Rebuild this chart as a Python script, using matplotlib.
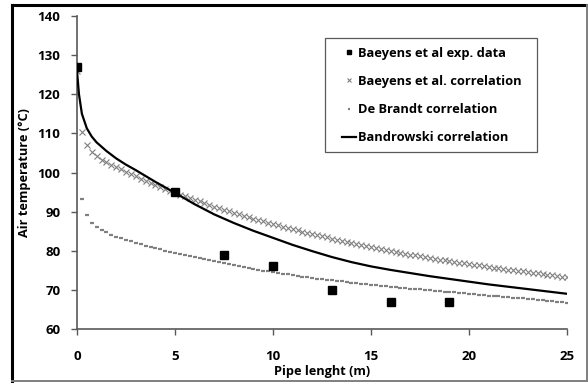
import matplotlib
matplotlib.use("Agg")
import matplotlib.pyplot as plt
from matplotlib.lines import Line2D
from matplotlib.patches import Rectangle

plt.rcParams['font.family'] = ['Open Sans', 'DejaVu Sans']
plt.rcParams['font.weight'] = 'bold'

# Baeyens et al. experimental data
exp_x = [0, 5, 7.5, 10, 13, 16, 19]
exp_t = [127, 95, 79, 76, 70, 67, 67]

# Baeyens et al. correlation, every 0.25 m
baeyens_x = [i * 0.25 for i in range(101)]
baeyens_t = [
    126.0, 110.3, 107.0, 105.3, 104.1, 103.3, 102.6, 102.0, 101.4, 100.8,
    100.2, 99.6, 99.0, 98.4, 97.9, 97.3, 96.8, 96.3, 95.8, 95.3,
    94.8, 94.35, 93.9, 93.45, 93.0, 92.6, 92.15, 91.7, 91.3, 90.9,
    90.5, 90.1, 89.7, 89.3, 88.95, 88.6, 88.2, 87.85, 87.5, 87.15,
    86.8, 86.5, 86.15, 85.85, 85.55, 85.25, 84.9, 84.6, 84.3, 84.0,
    83.7, 83.4, 83.1, 82.8, 82.5, 82.25, 82.0, 81.7, 81.45, 81.2,
    80.9, 80.7, 80.45, 80.2, 79.9, 79.7, 79.45, 79.2, 79.0, 78.8,
    78.55, 78.35, 78.15, 77.95, 77.75, 77.55, 77.35, 77.15, 76.95, 76.8,
    76.6, 76.4, 76.25, 76.05, 75.9, 75.7, 75.55, 75.35, 75.2, 75.05,
    74.85, 74.7, 74.5, 74.35, 74.2, 74.0, 73.85, 73.7, 73.5, 73.35,
    73.2,
]

# De Brandt correlation, every 0.25 m from 0.25 m
debrandt_x = [i * 0.25 for i in range(1, 101)]
debrandt_t = [
    93.2, 89.1, 87.2, 86.1, 85.3, 84.7, 84.1, 83.6, 83.2, 82.8,
    82.4, 82.0, 81.65, 81.3, 81.0, 80.65, 80.35, 80.0, 79.7, 79.4,
    79.15, 78.9, 78.6, 78.35, 78.1, 77.85, 77.6, 77.3, 77.05, 76.8,
    76.55, 76.3, 76.1, 75.85, 75.65, 75.4, 75.2, 74.95, 74.75, 74.5,
    74.3, 74.15, 73.95, 73.8, 73.6, 73.4, 73.25, 73.05, 72.9, 72.7,
    72.55, 72.4, 72.3, 72.15, 72.0, 71.85, 71.7, 71.6, 71.45, 71.3,
    71.2, 71.05, 70.95, 70.85, 70.7, 70.6, 70.45, 70.35, 70.2, 70.1,
    70.0, 69.9, 69.75, 69.65, 69.55, 69.45, 69.35, 69.2, 69.1, 69.0,
    68.9, 68.8, 68.65, 68.55, 68.45, 68.35, 68.25, 68.1, 68.0, 67.9,
    67.8, 67.65, 67.55, 67.45, 67.3, 67.2, 67.1, 66.95, 66.85, 66.7,
]

# Bandrowski correlation
bandrowski_x = [0, 0.1, 0.25, 0.5, 0.75, 1, 1.5, 2, 2.5, 3, 4, 5, 6, 7, 8, 9, 10,
                11, 12, 13, 14, 15, 16, 17, 18, 19, 20, 21, 22, 23, 24, 25]
bandrowski_t = [126.0, 120.0, 115.0, 111.3, 109.2, 107.7, 105.5, 103.6, 102.0, 100.6,
                97.6, 94.8, 91.9, 89.3, 87.1, 85.1, 83.3, 81.5, 79.9, 78.4, 77.1,
                76.0, 75.1, 74.3, 73.5, 72.8, 72.1, 71.4, 70.8, 70.2, 69.6, 69.0]

xticks = [0, 5, 10, 15, 20, 25]
yticks = [60, 70, 80, 90, 100, 110, 120, 130, 140]

W, H = 588, 383
fig = plt.figure(figsize=(W / 100, H / 100), dpi=100)
ax = fig.add_axes([77 / W, 1 - 329 / H, 490 / W, 313 / H])

ax.plot(bandrowski_x, bandrowski_t, color='black', lw=1.6, zorder=3,
        label='Bandrowski correlation')
ax.plot(baeyens_x, baeyens_t, ls='none', marker='x', ms=4.8, mew=0.8,
        color='#808080', zorder=2, label='Baeyens et al. correlation')
ax.plot(debrandt_x, debrandt_t, ls='none', marker='_', ms=2.6, mew=1.6,
        color='#808080', zorder=2, label='De Brandt correlation')
ax.plot(exp_x, exp_t, ls='none', marker='s', ms=5.5, color='black',
        zorder=4, label='Baeyens et al exp. data')

ax.set_xlim(0, 25)
ax.set_ylim(60, 140)
ax.set_xticks(xticks)
ax.set_yticks(yticks)
ax.tick_params(axis='both', direction='out', length=4, width=1, color='#595959',
               labelsize=9.5)
ax.tick_params(axis='x', pad=11)
ax.tick_params(axis='y', pad=8)
for lab in ax.get_xticklabels() + ax.get_yticklabels():
    lab.set_fontweight('bold')
for side in ['top', 'right']:
    ax.spines[side].set_visible(False)
for side in ['left', 'bottom']:
    ax.spines[side].set_color('#595959')
    ax.spines[side].set_linewidth(1.2)

ax.set_xlabel('Pipe lenght (m)', fontsize=9.2, fontweight='bold')
ax.set_ylabel('Air temperature (°C)', fontsize=9.2, fontweight='bold')
ax.xaxis.label.set_va('center')
ax.yaxis.label.set_va('center')
ax.xaxis.set_label_coords(0.5, -(371 - 329) / 313)
ax.yaxis.set_label_coords(-(77 - 25) / 490, 0.5)

# legend box drawn separately so the inner padding can be set freely
fig.add_artist(Rectangle((325 / W, 1 - 152 / H), (537 - 325) / W, (152 - 38) / H,
                         transform=fig.transFigure, facecolor='white',
                         edgecolor='#595959', lw=0.9, zorder=5))

handles, labels = ax.get_legend_handles_labels()
order = [3, 1, 2, 0]
leg = fig.legend([handles[i] for i in order], [labels[i] for i in order],
                 loc='center left', bbox_to_anchor=(342 / W, 1 - 95.5 / H),
                 bbox_transform=fig.transFigure,
                 prop={'weight': 'bold', 'size': 9.3},
                 frameon=False, borderpad=0, labelspacing=1.17,
                 handlelength=1.1, handletextpad=0.15, borderaxespad=0,
                 markerscale=0.65)
leg.set_zorder(6)

# outer border of the figure
fig.add_artist(Line2D([11.7 / W, 11.7 / W], [1 - 381 / H, 1 - 4.7 / H],
                      transform=fig.transFigure, color='black', lw=2.2))
fig.add_artist(Line2D([11.7 / W, 587 / W], [1 - 4.7 / H, 1 - 4.7 / H],
                      transform=fig.transFigure, color='black', lw=2.2))
fig.add_artist(Line2D([587 / W, 587 / W], [1 - 381 / H, 1 - 4.7 / H],
                      transform=fig.transFigure, color='#7f7f7f', lw=1.4))
fig.add_artist(Line2D([11.7 / W, 587 / W], [1 - 381 / H, 1 - 381 / H],
                      transform=fig.transFigure, color='#7f7f7f', lw=1.4))

fig.savefig('out.png', dpi=100)
